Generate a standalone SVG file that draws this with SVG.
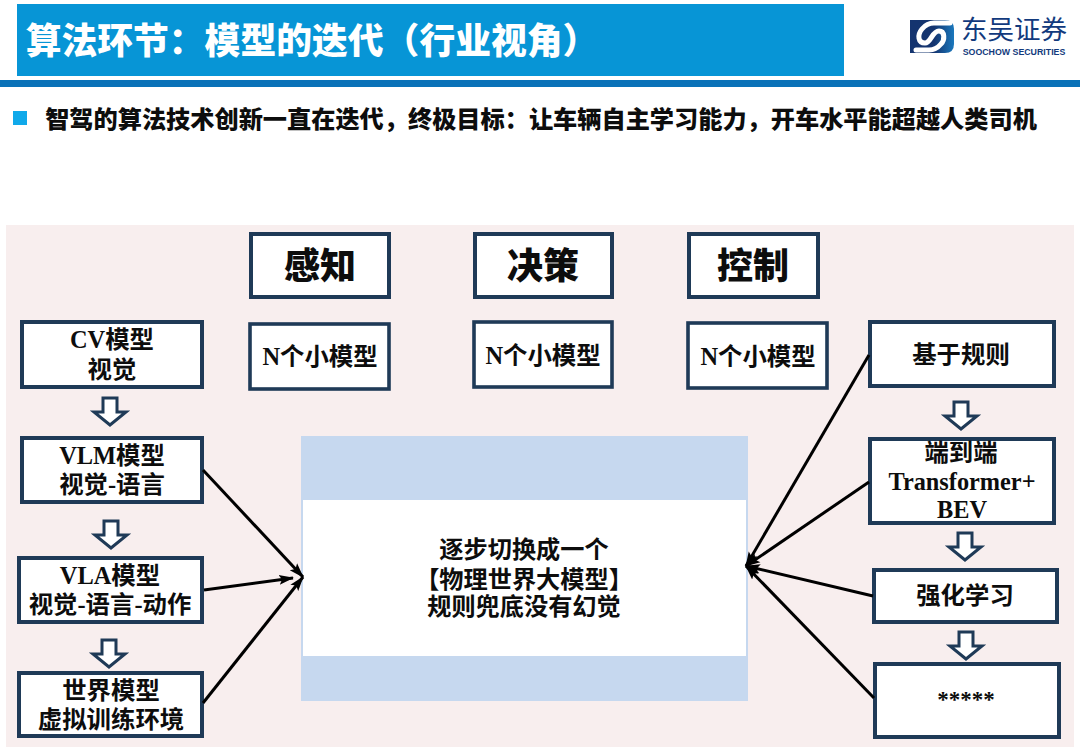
<svg xmlns="http://www.w3.org/2000/svg" width="1080" height="748" viewBox="0 0 1080 748">
<defs>
<style>
text{font-family:"Liberation Serif","Noto Sans CJK SC",serif;text-anchor:middle;fill:#0d0d0d;font-weight:700}
.cjk{font-family:"Noto Sans CJK SC",sans-serif}
.box{fill:#fff;stroke:#1f3a57;stroke-width:4}
.box2{fill:#fff;stroke:#1f3a57;stroke-width:3.6}
.t26{font-size:24.4px}
.t25{font-size:24.2px}
.big{font-size:36px}
.conn{stroke:#000;stroke-width:3;fill:none}
.down{fill:#fff;stroke:#1f3a57;stroke-width:3;stroke-linejoin:miter}
</style>
<marker id="ah" markerUnits="userSpaceOnUse" markerWidth="15" markerHeight="11" refX="14" refY="5.5" orient="auto"><path d="M0 0.5L15 5.5L0 10.5L3 5.5Z" fill="#000"/></marker>
<linearGradient id="lg" x1="0" y1="0" x2="1" y2="0"><stop offset="0" stop-color="#14346f"/><stop offset="0.55" stop-color="#14346f"/><stop offset="1" stop-color="#1a78bd"/></linearGradient>
<path id="dn" d="M-7 0H7V14H16L0 27L-16 14H-7Z" class="down"/>
</defs>
<rect width="1080" height="748" fill="#fff"/>
<g id="header">
<rect x="17" y="4" width="827" height="72" fill="#0795d6"/>
<rect x="0" y="80" width="1080" height="7" fill="#0a72b8"/>
<text x="312" y="54" class="cjk" style="font-size:35.8px;fill:#fff;font-weight:900">算法环节：模型的迭代（行业视角）</text>
</g>
<g id="logo">
<path d="M910 20H945Q954 20 954 29V44Q954 53 945 53H910Z" fill="url(#lg)"/>
<path d="M950 23H934Q927 23 922 29C917 35 918 43 925 43C931 43 932 31 939 31C945 31 945 40 941 44Q936 50 929 50H916" fill="none" stroke="#fff" stroke-width="5" stroke-linecap="round"/>
<text x="1014" y="39" class="cjk" style="font-size:26.5px;fill:#123a7d;font-weight:400">东吴证券</text>
<text x="1014" y="55" style="font-family:'Liberation Sans',sans-serif;font-size:8.8px;fill:#123a7d;font-weight:700">SOOCHOW SECURITIES</text>
</g>
<g id="subtitle">
<rect x="13" y="111" width="14" height="14" fill="#10a9ea"/>
<text x="541" y="128" class="cjk" style="font-size:24.2px;font-weight:900">智驾的算法技术创新一直在迭代，终极目标：让车辆自主学习能力，开车水平能超越人类司机</text>
</g>
<rect id="panel" x="6" y="225" width="1068" height="522" fill="#f8eeee"/>
<g id="n-perception"><rect x="251" y="234" width="138" height="63" class="box"/><text x="320" y="279" class="cjk big" style="font-weight:900">感知</text></g>
<g id="n-decision"><rect x="475" y="234" width="137" height="63" class="box"/><text x="543" y="279" class="cjk big" style="font-weight:900">决策</text></g>
<g id="n-control"><rect x="689" y="234" width="129" height="63" class="box"/><text x="753" y="279" class="cjk big" style="font-weight:900">控制</text></g>
<g id="n-small1"><rect x="250" y="324" width="139" height="65" class="box2"/><text x="320" y="365" class="t26">N个小模型</text></g>
<g id="n-small2"><rect x="474" y="322" width="138" height="65" class="box2"/><text x="543" y="364" class="t26">N个小模型</text></g>
<g id="n-small3"><rect x="688" y="323" width="139" height="65" class="box2"/><text x="758" y="365" class="t26">N个小模型</text></g>
<g id="n-cv"><rect x="22" y="322" width="180" height="65" class="box"/><text x="112" y="348" class="t26">CV模型</text><text x="112" y="378" class="t26">视觉</text></g>
<g id="n-vlm"><rect x="22" y="438" width="180" height="64" class="box"/><text x="112" y="464" class="t26">VLM模型</text><text x="112" y="493" class="t26">视觉-语言</text></g>
<g id="n-vla"><rect x="19" y="558" width="183" height="64" class="box"/><text x="110" y="584" class="t26">VLA模型</text><text x="110" y="613" class="t26">视觉-语言-动作</text></g>
<g id="n-world"><rect x="19" y="673" width="183" height="63" class="box"/><text x="111" y="699" class="t26">世界模型</text><text x="111" y="728" class="t26">虚拟训练环境</text></g>
<g id="n-center">
<rect x="301" y="436" width="447" height="265" fill="#c6d8ef"/>
<rect x="303" y="500" width="443" height="156" fill="#fff"/>
<text x="524" y="558" class="t25">逐步切换成一个</text>
<text x="524" y="588" class="t25">【物理世界大模型】</text>
<text x="524" y="615" class="t25">规则兜底没有幻觉</text>
</g>
<g id="n-rule"><rect x="870" y="322" width="184" height="64" class="box"/><text x="961" y="363" class="t26">基于规则</text></g>
<g id="n-e2e"><rect x="870" y="439" width="184" height="84" class="box"/><text x="961" y="461" class="t26">端到端</text><text x="962" y="490" style="font-size:24.3px">Transformer+</text><text x="962" y="518" style="font-size:24.3px">BEV</text></g>
<g id="n-rl"><rect x="874" y="570" width="183" height="52" class="box"/><text x="965" y="604" class="t26">强化学习</text></g>
<g id="n-star"><rect x="875" y="664" width="184" height="73" class="box"/><text x="966" y="707" style="font-size:23px">*****</text></g>
<g id="connectors">
<path class="conn" marker-end="url(#ah)" d="M203 470L303 577"/>
<path class="conn" marker-end="url(#ah)" d="M204 590L293 578"/>
<path class="conn" marker-end="url(#ah)" d="M203 703L303 577"/>
<path class="conn" marker-end="url(#ah)" d="M869 355L746 566"/>
<path class="conn" marker-end="url(#ah)" d="M869 482L746 566"/>
<path class="conn" marker-end="url(#ah)" d="M873 596L746 566"/>
<path class="conn" marker-end="url(#ah)" d="M874 698L746 566"/>
<use href="#dn" x="110" y="398"/>
<use href="#dn" x="111" y="521"/>
<use href="#dn" x="109" y="640"/>
<use href="#dn" x="961" y="402"/>
<use href="#dn" x="965" y="533"/>
<use href="#dn" x="966" y="632"/>
</g>
</svg>
